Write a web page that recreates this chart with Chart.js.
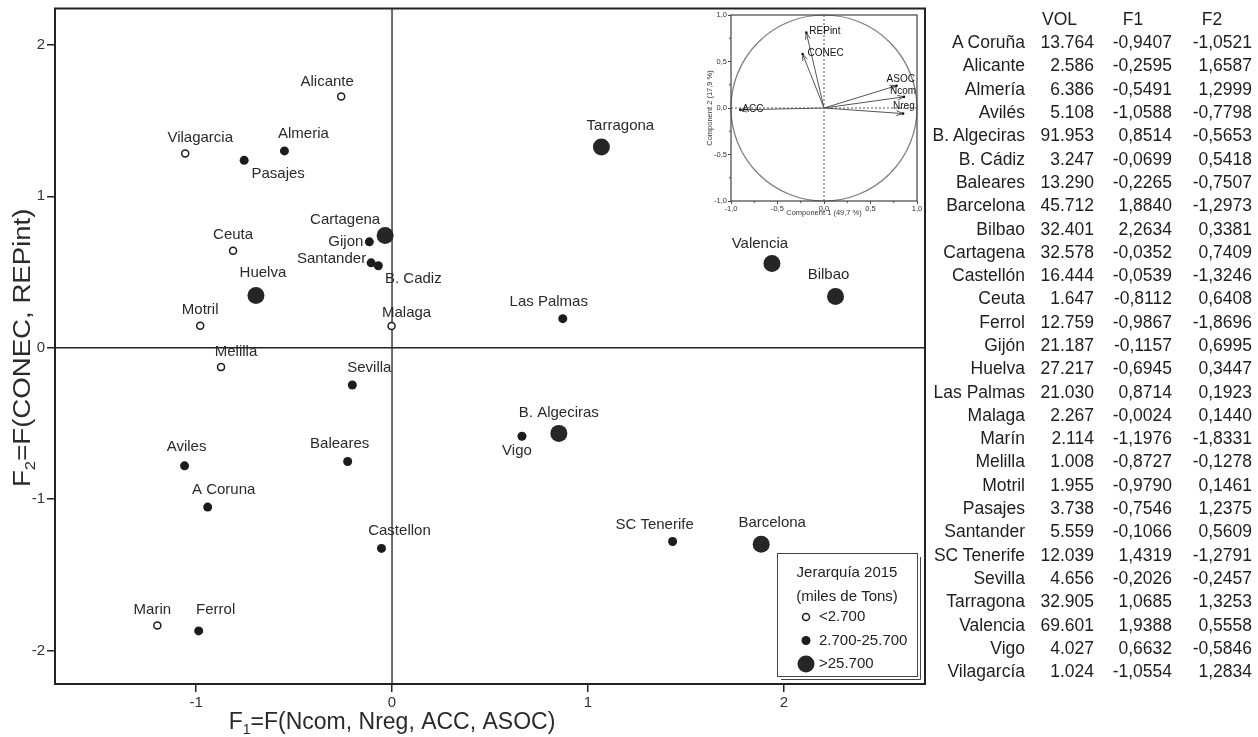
<!DOCTYPE html>
<html>
<head>
<meta charset="utf-8">
<script src="https://cdn.jsdelivr.net/npm/chart.js@4.4.1/dist/chart.umd.min.js"></script>
<style>
  body { margin:0; width:1258px; height:737px; background:#fff; position:relative; overflow:hidden;
         font-family:"Liberation Sans", Arial, sans-serif; color:#1e1e1e; }
  #mainWrap { position:absolute; left:0; top:0; width:945px; height:737px; }
  #insetWrap { position:absolute; left:695px; top:10px; width:228px; height:211px; background:#fff; }
  #tbl { position:absolute; left:925px; top:8px; border-collapse:collapse; table-layout:fixed; width:327px; font-size:17.5px; }
  #tbl td, #tbl th { padding:0; text-align:right; font-weight:normal; white-space:nowrap; overflow:visible; }
  #tbl th { text-align:center; height:23px; }
  #tbl td { height:23.3px; }
</style>
</head>
<body>
<div id="mainWrap"><canvas id="main"></canvas></div>
<div id="insetWrap"><canvas id="inset"></canvas></div>
<table id="tbl">
  <colgroup><col style="width:100px"><col style="width:69px"><col style="width:78px"><col style="width:80px"></colgroup>
  <thead><tr><th></th><th>VOL</th><th>F1</th><th>F2</th></tr></thead>
  <tbody id="tbody"></tbody>
</table>
<script>
const FONT = '"Liberation Sans", Arial, sans-serif';

// ports as written in the table and in the plot
const tableNames = ['A Coruña','Alicante','Almería','Avilés','B. Algeciras','B. Cádiz','Baleares','Barcelona','Bilbao','Cartagena','Castellón','Ceuta','Ferrol','Gijón','Huelva','Las Palmas','Malaga','Marín','Melilla','Motril','Pasajes','Santander','SC Tenerife','Sevilla','Tarragona','Valencia','Vigo','Vilagarcía'];
const plotNames = ['A Coruna','Alicante','Almeria','Aviles','B. Algeciras','B. Cadiz','Baleares','Barcelona','Bilbao','Cartagena','Castellon','Ceuta','Ferrol','Gijon','Huelva','Las Palmas','Malaga','Marin','Melilla','Motril','Pasajes','Santander','SC Tenerife','Sevilla','Tarragona','Valencia','Vigo','Vilagarcia'];
const vol = [13764, 2586, 6386, 5108, 91953, 3247, 13290, 45712, 32401, 32578, 16444, 1647, 12759, 21187, 27217, 21030, 2267, 2114, 1008, 1955, 3738, 5559, 12039, 4656, 32905, 69601, 4027, 1024];
const f1 = [-0.9407, -0.2595, -0.5491, -1.0588, 0.8514, -0.0699, -0.2265, 1.8840, 2.2634, -0.0352, -0.0539, -0.8112, -0.9867, -0.1157, -0.6945, 0.8714, -0.0024, -1.1976, -0.8727, -0.9790, -0.7546, -0.1066, 1.4319, -0.2026, 1.0685, 1.9388, 0.6632, -1.0554];
const f2 = [-1.0521, 1.6587, 1.2999, -0.7798, -0.5653, 0.5418, -0.7507, -1.2973, 0.3381, 0.7409, -1.3246, 0.6408, -1.8696, 0.6995, 0.3447, 0.1923, 0.1440, -1.8331, -0.1278, 0.1461, 1.2375, 0.5609, -1.2791, -0.2457, 1.3253, 0.5558, -0.5846, 1.2834];
const xTicks = [-1, 0, 1, 2];
const yTicks = [-2, -1, 0, 1, 2];
const volClasses = ['<2.700', '2.700-25.700', '>25.700'];
const volBreaks = [2700, 25700];

// inset: loadings plot
const loadVars = ['REPint', 'CONEC', 'ASOC', 'Ncom', 'Nreg', 'ACC'];
const load1 = [-0.19, -0.23, 0.78, 0.86, 0.85, -0.90];
const load2 = [0.81, 0.58, 0.24, 0.12, -0.06, -0.02];

// where each label sits relative to its point [dx, dy, align]
const labelOffsets = {
  'A Coruna':[16,-17], 'Alicante':[-14,-15], 'Almeria':[19,-17], 'Aviles':[2,-19],
  'B. Algeciras':[0,-21], 'B. Cadiz':[35,13], 'Baleares':[-8,-18], 'Barcelona':[11,-21],
  'Bilbao':[-7,-22], 'Cartagena':[-40,-16], 'Castellon':[18,-18], 'Ceuta':[0,-16],
  'Ferrol':[17,-21], 'Gijon':[-6,0,'right'], 'Huelva':[7,-23], 'Las Palmas':[-14,-17],
  'Malaga':[15,-13], 'Marin':[-5,-16], 'Melilla':[15,-15], 'Motril':[0,-16],
  'Pasajes':[34,14], 'Santander':[-5,-4,'right'], 'SC Tenerife':[-18,-17], 'Sevilla':[17,-17],
  'Tarragona':[19,-21], 'Valencia':[-12,-20], 'Vigo':[-5,15], 'Vilagarcia':[15,-16]
};
const insetLabelOffsets = {
  'REPint':[3,-1], 'CONEC':[5,-1], 'ASOC':[-10,-6], 'Ncom':[-14,-6], 'Nreg':[-10,-7], 'ACC':[2,-1]
};

// table
function fmtVol(v) { return String(v).replace(/\B(?=(\d{3})+(?!\d))/g, '.'); }
function fmtF(v) { return v.toFixed(4).replace('.', ','); }
const tbody = document.getElementById('tbody');
tableNames.forEach((n, i) => {
  const tr = document.createElement('tr');
  [n, fmtVol(vol[i]), fmtF(f1[i]), fmtF(f2[i])].forEach(t => {
    const td = document.createElement('td');
    td.textContent = t;
    tr.appendChild(td);
  });
  tbody.appendChild(tr);
});

const volClass = v => v < volBreaks[0] ? 0 : (v <= volBreaks[1] ? 1 : 2);
const classStyle = [
  { r:3.5, bg:'#ffffff', bw:1.5 },
  { r:4.5, bg:'#1c1c1c', bw:0 },
  { r:8.5, bg:'#262626', bw:0 }
];

const datasets = volClasses.map((lab, c) => ({
  label: lab,
  data: plotNames.map((n, i) => ({ x: f1[i], y: f2[i], c: volClass(vol[i]) })).filter(p => p.c === c),
  pointRadius: classStyle[c].r,
  pointBackgroundColor: classStyle[c].bg,
  pointBorderColor: '#1c1c1c',
  pointBorderWidth: classStyle[c].bw
}));

// title with a subscript, e.g. F1=...
function drawSubTitle(ctx, head, sub, rest, cx, baseY, size) {
  ctx.font = size + 'px ' + FONT;
  const w1 = ctx.measureText(head).width;
  const w3 = ctx.measureText(rest).width;
  ctx.font = Math.round(size * 0.6) + 'px ' + FONT;
  const w2 = ctx.measureText(sub).width;
  let x0 = cx - (w1 + w2 + w3) / 2;
  ctx.textAlign = 'left';
  ctx.textBaseline = 'alphabetic';
  ctx.font = size + 'px ' + FONT;
  ctx.fillText(head, x0, baseY);
  ctx.font = Math.round(size * 0.6) + 'px ' + FONT;
  ctx.fillText(sub, x0 + w1, baseY + size * 0.22);
  ctx.font = size + 'px ' + FONT;
  ctx.fillText(rest, x0 + w1 + w2, baseY);
}

function drawDot(ctx, x, y, c) {
  const s = classStyle[c];
  ctx.beginPath();
  ctx.arc(x, y, s.r, 0, Math.PI * 2);
  ctx.fillStyle = s.bg;
  ctx.fill();
  if (s.bw) { ctx.lineWidth = s.bw; ctx.strokeStyle = '#1c1c1c'; ctx.stroke(); }
}

const noPad = s => { s.paddingTop = 0; s.paddingBottom = 0; s.paddingLeft = 0; s.paddingRight = 0; };

const framePlugin = {
  id: 'frame',
  beforeDatasetsDraw(chart) {
    const { ctx, chartArea: a, scales: { x, y } } = chart;
    ctx.save();
    ctx.strokeStyle = '#222';
    ctx.lineWidth = 1.3;
    const x0 = x.getPixelForValue(0), y0 = y.getPixelForValue(0);
    ctx.beginPath();
    ctx.moveTo(x0, a.top); ctx.lineTo(x0, a.bottom);
    ctx.moveTo(a.left, y0); ctx.lineTo(a.right, y0);
    ctx.stroke();
    ctx.lineWidth = 2;
    ctx.strokeRect(a.left, a.top, a.right - a.left, a.bottom - a.top);
    ctx.restore();
  },
  afterDatasetsDraw(chart) {
    const { ctx, chartArea: a, scales: { x, y } } = chart;
    ctx.save();
    // point labels
    ctx.font = '15px ' + FONT;
    ctx.fillStyle = '#2a2a2a';
    ctx.textBaseline = 'middle';
    plotNames.forEach((n, i) => {
      const o = labelOffsets[n];
      ctx.textAlign = o[2] || 'center';
      ctx.fillText(n, x.getPixelForValue(f1[i]) + o[0], y.getPixelForValue(f2[i]) + o[1]);
    });

    // legend box
    const lx = 777, ly = 553, lw = 140, lh = 123;
    ctx.fillStyle = '#fff';
    ctx.fillRect(lx, ly, lw, lh);
    ctx.strokeStyle = '#444';
    ctx.lineWidth = 1;
    ctx.strokeRect(lx + 0.5, ly + 0.5, lw, lh);
    ctx.beginPath();
    ctx.moveTo(lx + lw + 3.5, ly + 4); ctx.lineTo(lx + lw + 3.5, ly + lh + 3.5); ctx.lineTo(lx + 4, ly + lh + 3.5);
    ctx.stroke();
    ctx.fillStyle = '#222';
    ctx.font = '15px ' + FONT;
    ctx.textAlign = 'center';
    ctx.textBaseline = 'middle';
    ctx.fillText('Jerarquía 2015', lx + lw / 2, ly + 20);
    ctx.fillText('(miles de Tons)', lx + lw / 2, ly + 44);
    ctx.textAlign = 'left';
    volClasses.forEach((lab, c) => {
      const yy = ly + 64 + c * 23.5;
      drawDot(ctx, 806, yy, c);
      ctx.fillStyle = '#222';
      ctx.fillText(lab, 819, yy);
    });

    // axis titles
    ctx.fillStyle = '#2a2a2a';
    drawSubTitle(ctx, 'F', '1', '=F(Ncom, Nreg, ACC, ASOC)', x.getPixelForValue(0), 729, 23);
    ctx.translate(30, y.getPixelForValue(0));
    ctx.rotate(-Math.PI / 2);
    ctx.scale(1.2, 1);
    drawSubTitle(ctx, 'F', '2', '=F(CONEC, REPint)', 0, 0, 23);
    ctx.restore();
  }
};

new Chart(document.getElementById('main'), {
  type: 'scatter',
  data: { datasets: datasets },
  options: {
    responsive: true,
    maintainAspectRatio: false,
    animation: false,
    layout: { padding: { left: 0, top: 7, right: 20, bottom: 0 } },
    plugins: { legend: { display: false }, tooltip: { enabled: false } },
    scales: {
      x: {
        type: 'linear', min: -1.72, max: 2.72,
        afterBuildTicks: s => { s.ticks = xTicks.map(v => ({ value: v })); },
        afterFit: s => { s.height = 53; noPad(s); },
        grid: { drawOnChartArea: false, tickLength: 8, color: '#222', lineWidth: 1.5 },
        border: { display: false },
        ticks: { font: { size: 15, family: FONT }, color: '#333', padding: 2, maxRotation: 0 }
      },
      y: {
        type: 'linear', min: -2.22, max: 2.24,
        afterBuildTicks: s => { s.ticks = yTicks.map(v => ({ value: v })); },
        afterFit: s => { s.width = 55; noPad(s); },
        grid: { drawOnChartArea: false, tickLength: 8, color: '#222', lineWidth: 1.5 },
        border: { display: false },
        ticks: { font: { size: 15, family: FONT }, color: '#333', padding: 2 }
      }
    }
  },
  plugins: [framePlugin]
});

// inset chart
const insetDatasets = loadVars.map((v, i) => ({
  label: v,
  data: [{ x: 0, y: 0 }, { x: load1[i], y: load2[i] }],
  showLine: true,
  borderColor: '#555',
  borderWidth: 1,
  pointRadius: 0
}));

const insetPlugin = {
  id: 'insetDeco',
  beforeDatasetsDraw(chart) {
    const { ctx, chartArea: a, scales: { x, y } } = chart;
    const x0 = x.getPixelForValue(0), y0 = y.getPixelForValue(0);
    ctx.save();
    ctx.strokeStyle = '#555';
    ctx.lineWidth = 1;
    ctx.setLineDash([2, 2]);
    ctx.beginPath();
    ctx.moveTo(x0, a.top); ctx.lineTo(x0, a.bottom);
    ctx.moveTo(a.left, y0); ctx.lineTo(a.right, y0);
    ctx.stroke();
    ctx.setLineDash([]);
    ctx.strokeStyle = '#7a7a7a';
    ctx.lineWidth = 1.2;
    ctx.beginPath();
    ctx.ellipse(x0, y0, x.getPixelForValue(1) - x0, y0 - y.getPixelForValue(1), 0, 0, Math.PI * 2);
    ctx.stroke();
    ctx.strokeStyle = '#444';
    ctx.lineWidth = 1.2;
    ctx.strokeRect(a.left, a.top, a.right - a.left, a.bottom - a.top);
    // minor ticks
    ctx.lineWidth = 1;
    ctx.beginPath();
    [-0.75, -0.25, 0.25, 0.75].forEach(v => {
      const px = x.getPixelForValue(v), py = y.getPixelForValue(v);
      ctx.moveTo(px, a.bottom); ctx.lineTo(px, a.bottom + 2);
      ctx.moveTo(a.left, py); ctx.lineTo(a.left - 2, py);
    });
    ctx.stroke();
    ctx.restore();
  },
  afterDatasetsDraw(chart) {
    const { ctx, chartArea: a, scales: { x, y } } = chart;
    const x0 = x.getPixelForValue(0), y0 = y.getPixelForValue(0);
    ctx.save();
    ctx.strokeStyle = '#555';
    ctx.fillStyle = '#111';
    ctx.lineWidth = 1;
    ctx.font = '10px ' + FONT;
    ctx.textBaseline = 'middle';
    ctx.textAlign = 'left';
    loadVars.forEach((v, i) => {
      const tx = x.getPixelForValue(load1[i]), ty = y.getPixelForValue(load2[i]);
      const ang = Math.atan2(ty - y0, tx - x0);
      ctx.beginPath();
      [0.35, -0.35].forEach(d => {
        ctx.moveTo(tx, ty);
        ctx.lineTo(tx - 7 * Math.cos(ang + d), ty - 7 * Math.sin(ang + d));
      });
      ctx.stroke();
      ctx.beginPath();
      ctx.arc(tx, ty, 1.3, 0, Math.PI * 2);
      ctx.fill();
      const o = insetLabelOffsets[v];
      ctx.fillText(v, tx + o[0], ty + o[1]);
    });
    ctx.font = '7.5px ' + FONT;
    ctx.fillStyle = '#333';
    ctx.textAlign = 'center';
    ctx.fillText('Component 1 (49,7 %)', (a.left + a.right) / 2, a.bottom + 12);
    ctx.translate(a.left - 21, (a.top + a.bottom) / 2);
    ctx.rotate(-Math.PI / 2);
    ctx.fillText('Component 2 (17,9 %)', 0, 0);
    ctx.restore();
  }
};

new Chart(document.getElementById('inset'), {
  type: 'scatter',
  data: { datasets: insetDatasets },
  options: {
    responsive: true,
    maintainAspectRatio: false,
    animation: false,
    layout: { padding: { left: 0, top: 5, right: 6, bottom: 0 } },
    plugins: { legend: { display: false }, tooltip: { enabled: false } },
    scales: {
      x: {
        type: 'linear', min: -1, max: 1,
        afterFit: s => { s.height = 20; noPad(s); },
        grid: { drawOnChartArea: false, tickLength: 3, color: '#444' },
        border: { display: false },
        ticks: { stepSize: 0.5, font: { size: 7.5, family: FONT }, color: '#333', padding: 0, maxRotation: 0,
                 callback: v => v.toFixed(1).replace('.', ',') }
      },
      y: {
        type: 'linear', min: -1, max: 1,
        afterFit: s => { s.width = 36; noPad(s); },
        grid: { drawOnChartArea: false, tickLength: 3, color: '#444' },
        border: { display: false },
        ticks: { stepSize: 0.5, font: { size: 7.5, family: FONT }, color: '#333', padding: 1,
                 callback: v => v.toFixed(1).replace('.', ',') }
      }
    }
  },
  plugins: [insetPlugin]
});
</script>
</body>
</html>
